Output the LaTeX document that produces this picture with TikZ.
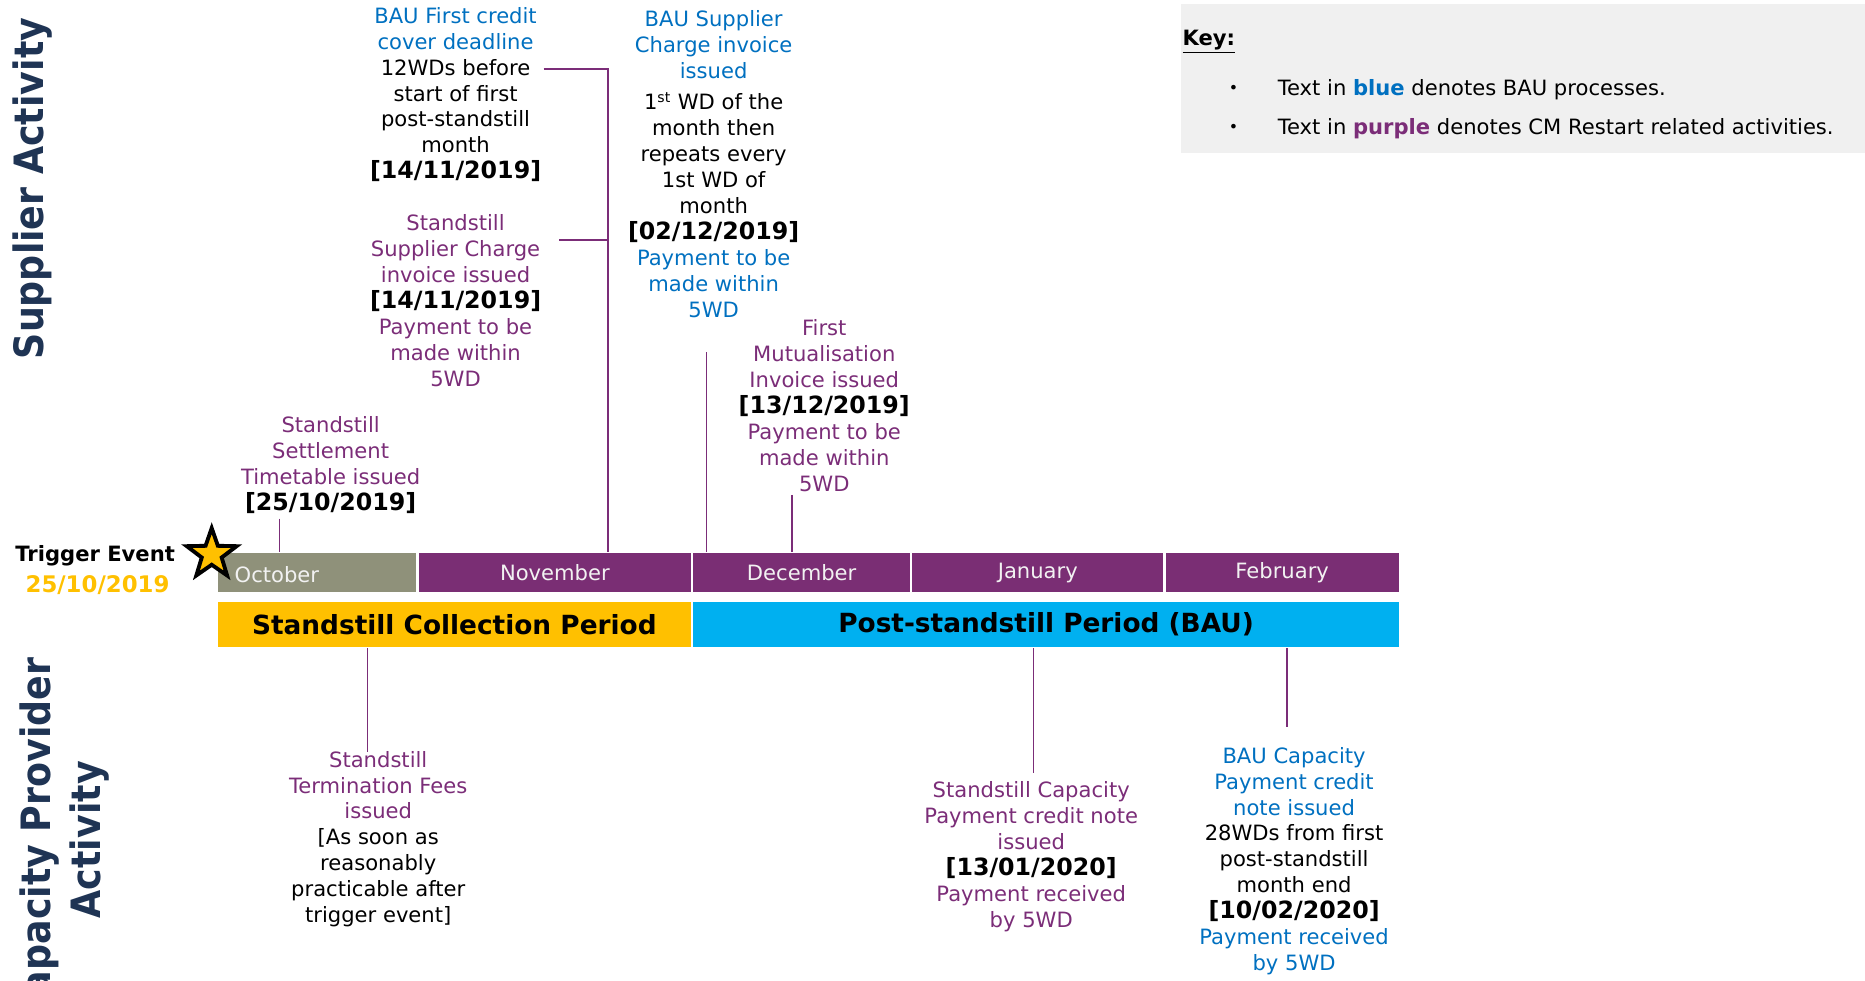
\documentclass[tikz,border=0pt]{standalone}
\usepackage{fontspec}
\setmainfont{DejaVu Sans}
\newfontfamily\sidefont{DejaVu Sans}[FakeStretch=0.9]
\usetikzlibrary{positioning,shapes.geometric}
\definecolor{SideNavy}{RGB}{31,52,84}
\definecolor{BauBlue}{RGB}{0,112,192}
\definecolor{CmPurple}{RGB}{123,45,120}
\definecolor{BarPurple}{RGB}{122,46,116}
\definecolor{OctGrey}{RGB}{143,145,122}
\definecolor{TriggerGold}{RGB}{255,192,0}
\definecolor{BauCyan}{RGB}{0,176,240}
\definecolor{KeyGrey}{RGB}{240,240,240}
\definecolor{MonthText}{RGB}{242,242,242}
\newcommand{\pxs}{0.023788cm}
\newcommand{\bautxt}[1]{\textcolor{BauBlue}{#1}}
\newcommand{\cmtxt}[1]{\textcolor{CmPurple}{#1}}
\newcommand{\datetxt}[1]{{\fontsize{13.5}{14.78}\selectfont\bfseries #1}}
\tikzset{
  monthbox/.style={draw=white,line width=1.2pt,fill=BarPurple,text=MonthText,
    minimum height=35*\pxs,inner sep=0pt,outer sep=0pt,font=\fontsize{12}{14}\selectfont},
  periodbox/.style={draw=white,line width=1.2pt,minimum height=40*\pxs,
    inner sep=0pt,outer sep=0pt,font=\fontsize{15}{18}\selectfont\bfseries},
  note/.style={align=center,inner sep=0pt,font=\fontsize{12}{14.78}\selectfont},
  link/.style={draw=CmPurple,line width=1pt},
  sidelabel/.style={rotate=90,text=SideNavy,align=center,inner sep=0pt,
    font=\sidefont\bfseries\fontsize{23}{28.5}\selectfont},
  keytext/.style={anchor=west,inner sep=0pt,font=\fontsize{12}{14}\selectfont}
}

\begin{document}
\begin{tikzpicture}[x=\pxs,y=-\pxs]
\useasboundingbox (0,0) rectangle (1568,824);

% key
\node[fill=KeyGrey,minimum width=575*\pxs,minimum height=125*\pxs,
  anchor=north west,inner sep=0pt] (keybox) at (993,3) {};
\node[keytext] (keyttl) at (994,35) {\underline{\textbf{Key:}}};
\node[inner sep=0pt,font=\fontsize{9}{10}\selectfont] (kb1) at (1037,75) {•};
\node[inner sep=0pt,font=\fontsize{9}{10}\selectfont] (kb2) at (1037,108) {•};
\node[keytext] (key1) at (1074,75)
  {Text in \textbf{\bautxt{blue}} denotes BAU processes.};
\node[keytext] (key2) at (1074,108)
  {Text in \textbf{\cmtxt{purple}} denotes CM Restart related activities.};

% side titles
\node[sidelabel] (supact) at (27,158.5) {Supplier Activity};
\node[sidelabel] (capact) at (54,706) {Capacity Provider\\Activity};

% months
\node[monthbox,fill=OctGrey,minimum width=169*\pxs,anchor=north west] (oct) at (182,464) {};
\node[monthbox,minimum width=231*\pxs,right=0pt of oct] (nov) {November};
\node[monthbox,minimum width=184*\pxs,right=0pt of nov] (dec) {December};
\node[monthbox,minimum width=213*\pxs,right=0pt of dec] (jan) {January};
\node[monthbox,minimum width=198*\pxs,right=0pt of jan] (feb) {February};
\node[anchor=west,inner sep=0pt,text=MonthText,font=\fontsize{12}{14}\selectfont]
  (octlbl) at (197,483) {October};

% periods
\node[periodbox,fill=TriggerGold,minimum width=400*\pxs,anchor=north west]
  (ssp) at (182,505) {Standstill Collection Period};
\node[periodbox,fill=BauCyan,minimum width=595*\pxs,right=0pt of ssp]
  (bau) {Post-standstill Period (BAU)};

% trigger
\node[star,star points=5,star point ratio=2.5,draw=black,line width=2.2pt,
  fill=TriggerGold,minimum size=44*\pxs,inner sep=0pt] (trig) at (178,466) {};
\node[inner sep=0pt,font=\fontsize{12}{14}\selectfont\bfseries] (trigtxt) at (80,467) {Trigger Event};
\node[inner sep=0pt,text=TriggerGold,font=\fontsize{13}{15}\selectfont\bfseries]
  (trigdate) at (82,492) {25/10/2019};

% supplier notes
\node[note] (ccd) at (383,79.5) {\bautxt{BAU First credit}\\\bautxt{cover deadline}\\
  12WDs before\\start of first\\post-standstill\\month\\\datetxt{[14/11/2019]}};
\node[note] (ssc) at (383,252.5) {\cmtxt{Standstill}\\\cmtxt{Supplier Charge}\\
  \cmtxt{invoice issued}\\\datetxt{[14/11/2019]}\\\cmtxt{Payment to be}\\
  \cmtxt{made within}\\\cmtxt{5WD}};
\node[note] (bausc) at (600,138) {\bautxt{BAU Supplier}\\\bautxt{Charge invoice}\\
  \bautxt{issued}\\[3pt]1\textsuperscript{st} WD of the\\month then\\repeats every\\
  1st WD of\\month\\\datetxt{[02/12/2019]}\\\bautxt{Payment to be}\\
  \bautxt{made within}\\\bautxt{5WD}};
\node[note] (mutu) at (693,341) {\cmtxt{First}\\\cmtxt{Mutualisation}\\
  \cmtxt{Invoice issued}\\\datetxt{[13/12/2019]}\\\cmtxt{Payment to be}\\
  \cmtxt{made within}\\\cmtxt{5WD}};
\node[note] (settle) at (278,391) {\cmtxt{Standstill}\\\cmtxt{Settlement}\\
  \cmtxt{Timetable issued}\\\datetxt{[25/10/2019]}};

% capacity provider notes
\node[note] (term) at (318,705.5) {\cmtxt{Standstill}\\\cmtxt{Termination Fees}\\
  \cmtxt{issued}\\{}[As soon as\\reasonably\\practicable after\\trigger event]};
\node[note] (sscap) at (867,720.5) {\cmtxt{Standstill Capacity}\\
  \cmtxt{Payment credit note}\\\cmtxt{issued}\\\datetxt{[13/01/2020]}\\
  \cmtxt{Payment received}\\\cmtxt{by 5WD}};
\node[note] (baucap) at (1088,724) {\bautxt{BAU Capacity}\\\bautxt{Payment credit}\\
  \bautxt{note issued}\\28WDs from first\\post-standstill\\month end\\
  \datetxt{[10/02/2020]}\\\bautxt{Payment received}\\\bautxt{by 5WD}};

% connectors
\coordinate (ccdEnd) at (457,58);
\coordinate (sscEnd) at (470,202);
\coordinate (novTick) at (511,202);
\coordinate (bauscTop) at (594,296);
\coordinate (mutuTop) at (666,416);
\coordinate (settleTop) at (235,436);
\coordinate (termTop) at (309,632);
\coordinate (sscapTop) at (869,650);
\coordinate (baucapTop) at (1082,611);
\draw[link] (ccdEnd) -| (novTick |- nov.north);
\draw[link] (sscEnd) -- (novTick);
\draw[link] (bauscTop) -- (bauscTop |- dec.north);
\draw[link] (mutuTop) -- (mutuTop |- dec.north);
\draw[link] (settleTop) -- (settleTop |- oct.north);
\draw[link] (termTop |- ssp.south) -- (termTop);
\draw[link] (sscapTop |- bau.south) -- (sscapTop);
\draw[link] (baucapTop |- bau.south) -- (baucapTop);
\end{tikzpicture}
\end{document}
